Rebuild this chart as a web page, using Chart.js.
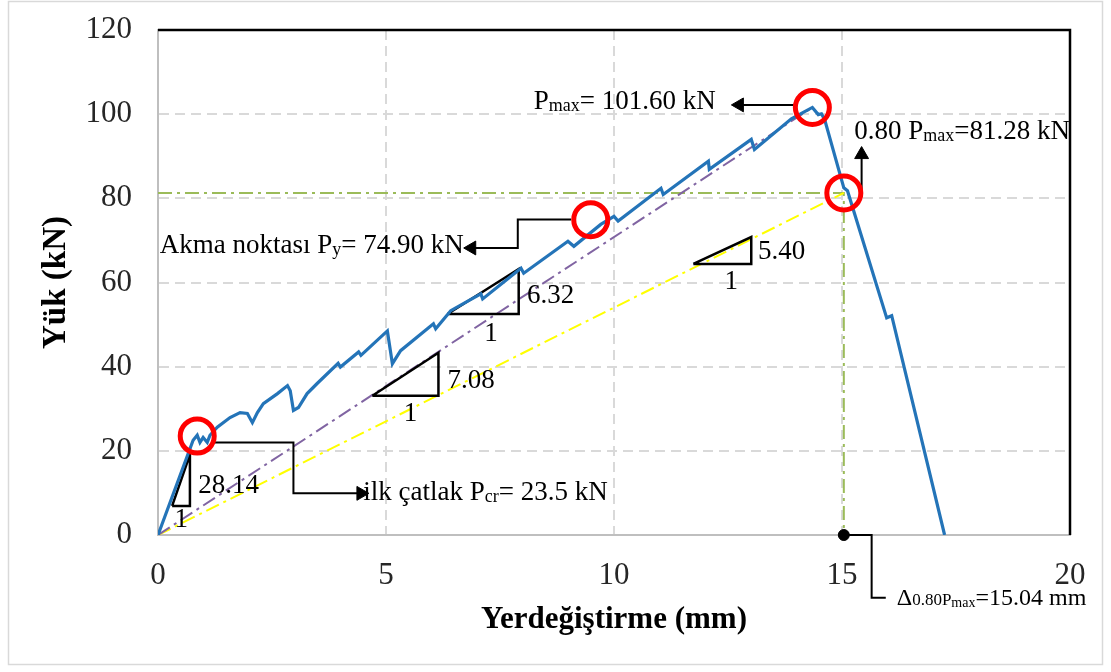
<!DOCTYPE html>
<html>
<head>
<meta charset="utf-8">
<script src="https://cdn.jsdelivr.net/npm/chart.js@4.4.1/dist/chart.umd.min.js"></script>
<style>
  html, body { margin: 0; padding: 0; background: #fff; }
  #wrap { width: 1111px; height: 672px; }
</style>
</head>
<body>
<div id="wrap"><canvas id="loadChart" width="1111" height="672"></canvas></div>
<script>
// ===== DATA =====
const dispTicks = [0, 5, 10, 15, 20];
const loadTicks = [0, 20, 40, 60, 80, 100, 120];

// load - displacement curve (mm / kN)
const disp = [0, 0.77, 0.86, 0.92, 0.99, 1.08, 1.14, 1.30, 1.58, 1.80, 1.96, 2.07, 2.18, 2.31, 2.62, 2.84,
  2.90, 2.97, 3.08, 3.27, 3.49, 3.95, 4.00, 4.40, 4.45, 5.03, 5.14, 5.32, 6.04, 6.09, 6.42, 7.08, 7.12,
  7.96, 8.02, 8.99, 9.12, 9.71, 10.00, 10.09, 11.03, 11.08, 12.07, 12.09, 13.01, 13.08, 13.89, 14.35,
  14.48, 14.55, 14.62, 15.04, 15.12, 15.98, 16.09, 17.25];
const load = [0, 22.5, 23.7, 22.0, 23.2, 22.0, 23.7, 25.6, 27.9, 29.1, 28.9, 26.7, 29.1, 31.2, 33.6, 35.5,
  34.3, 29.6, 30.3, 33.6, 36.0, 40.8, 39.9, 43.5, 42.7, 48.5, 40.7, 43.8, 50.2, 49.0, 53.3, 57.3, 56.1,
  63.4, 62.2, 69.8, 68.6, 73.8, 75.7, 74.6, 82.4, 80.9, 88.8, 86.9, 94.0, 91.6, 98.9, 101.6,
  99.9, 100.1, 98.7, 82.5, 81.8, 51.6, 52.1, 0];

// characteristic points
const Pcr = 23.5, dCr = 0.86;
const Py = 74.90, dY = 9.49;
const Pmax = 101.60, dMax = 14.35;
const P80 = 81.28, d80 = 15.04;

// stiffness triangles: [start, corner, top] in mm / kN
const tri1 = [[0.31, 6.9], [0.70, 6.9], [0.70, 19.1]];
const tri2 = [[4.70, 33.1], [6.15, 33.1], [6.15, 43.3]];
const tri3 = [[6.35, 52.5], [7.91, 52.5], [7.91, 63.2]];
const tri4 = [[11.74, 64.4], [13.01, 64.4], [13.01, 70.8]];

// callout leader lines (last point carries the arrow head)
const leadCr = [[1.25, 22.0], [2.97, 22.0], [2.97, 9.9], [4.45, 9.9]];
const leadY = [[9.06, 75.0], [7.89, 75.0], [7.89, 68.2], [6.88, 68.2]];
const leadMax = [[13.96, 102.2], [12.75, 102.2]];
const lead80 = [[15.43, 82.1], [15.43, 90.4]];
const leadD = [[d80, 0], [15.65, 0], [15.65, -14.9], [15.96, -14.9]];

// ===== HELPERS =====
const pts = arr => arr.map(p => ({ x: p[0], y: p[1] }));

function triangle(v) {
  return {
    data: pts([v[0], v[1], v[2], v[0]]),
    showLine: true, borderColor: '#000', borderWidth: 2.5, pointRadius: 0, order: 3
  };
}

function leader(v, rot, clip) {
  return {
    data: pts(v),
    showLine: true, borderColor: '#000', borderWidth: 2,
    pointRadius: v.map((p, i) => i === v.length - 1 ? 8 : 0),
    pointStyle: 'triangle', pointRotation: rot,
    pointBackgroundColor: '#000', pointBorderColor: '#000', pointBorderWidth: 1,
    order: 1, clip: clip ? false : undefined
  };
}

const dashDot = [14, 5, 3, 5];

const datasets = [
  // red rings around the characteristic points
  {
    data: pts([[dCr, Pcr], [dY, Py], [dMax, Pmax], [d80, P80]]),
    showLine: false, pointRadius: 17, pointBorderWidth: 5,
    pointBorderColor: '#ff0000', pointBackgroundColor: 'rgba(0,0,0,0)', order: 0
  },
  {
    data: pts([[d80, 0]]), showLine: false, pointRadius: 5.5,
    pointBackgroundColor: '#000', pointBorderColor: '#000', order: 0, clip: false
  },
  leader(leadCr, 90),
  leader(leadY, 270),
  leader(leadMax, 270),
  leader(lead80, 0),
  leader(leadD, 90, true),
  {
    data: disp.map((d, i) => ({ x: d, y: load[i] })),
    showLine: true, borderColor: '#2474b8', borderWidth: 3.2, pointRadius: 0,
    tension: 0, order: 2
  },
  triangle(tri1), triangle(tri2), triangle(tri3), triangle(tri4),
  {
    data: pts([[0, 0], [dMax, Pmax]]),
    showLine: true, borderColor: '#8064a2', borderWidth: 2, borderDash: dashDot, pointRadius: 0, order: 4
  },
  {
    data: pts([[0, 0], [d80, P80]]),
    showLine: true, borderColor: '#ffff00', borderWidth: 2, borderDash: dashDot, pointRadius: 0, order: 4
  },
  {
    data: pts([[0, P80], [d80, P80], [d80, 0]]),
    showLine: true, borderColor: '#9bbb59', borderWidth: 2, borderDash: dashDot, pointRadius: 0, order: 4
  }
];

// ===== TEXT NOTES =====
const MAIN = '27px "Liberation Serif"';
const SUB = '18px "Liberation Serif"';
const notes = [
  { x: 8.24, y: 101.2, parts: [['P', MAIN], ['max', SUB, 2], ['= 101.60 kN', MAIN]] },
  { x: 15.27, y: 94.0, parts: [['0.80 P', MAIN], ['max', SUB, 2], ['=81.28 kN', MAIN]] },
  { x: 0.04, y: 67.0, parts: [['Akma noktası P', MAIN], ['y', SUB, 2], ['= 74.90 kN', MAIN]] },
  { x: 4.50, y: 8.2, parts: [['ilk çatlak P', MAIN], ['cr', SUB, 2], ['= 23.5 kN', MAIN]] },
  { x: 16.2, y: -16.6, parts: [['Δ', '24px "Liberation Serif"'], ['0.80P', '17px "Liberation Serif"'],
    ['max', '14px "Liberation Serif"', 2], ['=15.04 mm', '24px "Liberation Serif"']] },
  { x: 0.88, y: 9.9, parts: [['28.14', MAIN]] },
  { x: 6.35, y: 35.0, parts: [['7.08', MAIN]] },
  { x: 8.09, y: 55.1, parts: [['6.32', MAIN]] },
  { x: 13.16, y: 65.6, parts: [['5.40', MAIN]] },
  { x: 0.51, y: 1.9, parts: [['1', MAIN]], center: true },
  { x: 5.54, y: 27.2, parts: [['1', MAIN]], center: true },
  { x: 7.30, y: 46.2, parts: [['1', MAIN]], center: true },
  { x: 12.57, y: 58.5, parts: [['1', MAIN]], center: true }
];

const decorPlugin = {
  id: 'decor',
  beforeDraw(chart) {
    const ctx = chart.ctx;
    ctx.save();
    ctx.fillStyle = '#fff';
    ctx.fillRect(0, 0, chart.width, chart.height);
    ctx.strokeStyle = '#d9d9d9';
    ctx.lineWidth = 1.5;
    ctx.strokeRect(8.5, 1.5, 1094, 663);
    ctx.restore();
  },
  beforeDatasetsDraw(chart) {
    // black top and right edges of the plot area
    const { ctx, chartArea: a } = chart;
    ctx.save();
    ctx.strokeStyle = '#000';
    ctx.lineWidth = 2.5;
    ctx.beginPath();
    ctx.moveTo(a.left, a.top);
    ctx.lineTo(a.right, a.top);
    ctx.lineTo(a.right, a.bottom);
    ctx.stroke();
    ctx.restore();
  },
  afterDatasetsDraw(chart) {
    const { ctx, scales } = chart;
    ctx.save();
    ctx.fillStyle = '#000';
    ctx.textBaseline = 'alphabetic';
    ctx.textAlign = 'left';
    notes.forEach(n => {
      let x = scales.x.getPixelForValue(n.x);
      const y = scales.y.getPixelForValue(n.y);
      if (n.center) {
        let w = 0;
        n.parts.forEach(p => { ctx.font = p[1]; w += ctx.measureText(p[0]).width; });
        x -= w / 2;
      }
      n.parts.forEach(p => {
        ctx.font = p[1];
        ctx.fillText(p[0], x, y + (p[2] || 0));
        x += ctx.measureText(p[0]).width;
      });
    });
    ctx.restore();
  }
};

// ===== CHART =====
const tickFont = { family: 'Liberation Serif', size: 31 };
const gridColor = ctx => (ctx.tick && (ctx.index === 0 || ctx.index === ctx.chart.scales[ctx.scale.id].ticks.length - 1))
  ? 'rgba(0,0,0,0)' : '#d9d9d9';

new Chart(document.getElementById('loadChart'), {
  type: 'scatter',
  data: { datasets: datasets },
  options: {
    responsive: false,
    animation: false,
    layout: { padding: { top: 30, right: 41, bottom: 0, left: 0 } },
    plugins: { legend: { display: false }, tooltip: { enabled: false } },
    scales: {
      x: {
        type: 'linear', min: 0, max: 20,
        afterFit: s => { s.height = 137; },
        afterBuildTicks: s => { s.ticks = dispTicks.map(v => ({ value: v })); },
        ticks: { font: tickFont, color: '#262626', padding: 22 },
        grid: { color: gridColor, lineWidth: 2, drawTicks: false },
        border: { color: '#bfbfbf', width: 2, dash: [10, 6] },
        title: {
          display: true, text: 'Yerdeğiştirme (mm)', color: '#000',
          font: { family: 'Liberation Serif', size: 31, weight: 'bold' },
          padding: { top: 0, bottom: 33 }
        }
      },
      y: {
        type: 'linear', min: 0, max: 120,
        afterFit: s => { s.width = 158; },
        afterBuildTicks: s => { s.ticks = loadTicks.map(v => ({ value: v })); },
        // gap to the axis comes from an invisible tick mark, so the
        // top of the plot area is not pushed down by tick padding
        ticks: { font: tickFont, color: '#262626', padding: 0 },
        grid: { color: gridColor, lineWidth: 2, drawTicks: true, tickLength: 26, tickColor: 'rgba(0,0,0,0)' },
        border: { color: '#bfbfbf', width: 2, dash: [10, 6] },
        title: {
          display: true, text: 'Yük (kN)', color: '#000',
          font: { family: 'Liberation Serif', size: 33, weight: 'bold' },
          padding: { top: 37, bottom: 0 }
        }
      }
    }
  },
  plugins: [decorPlugin]
});
</script>
</body>
</html>
